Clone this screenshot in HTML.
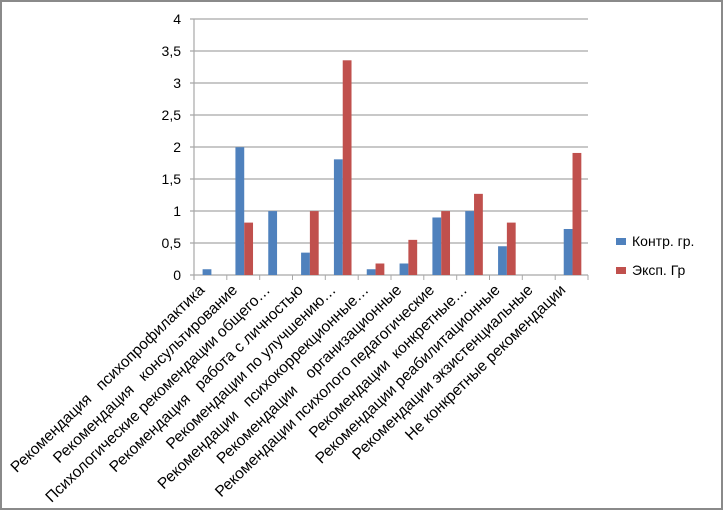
<!DOCTYPE html>
<html><head><meta charset="utf-8"><style>
body{margin:0;background:#fff}
svg{display:block}
text{font-family:"Liberation Sans","DejaVu Sans",sans-serif;fill:#000;white-space:pre}
</style></head><body>
<svg width="724" height="512" xmlns="http://www.w3.org/2000/svg">
<rect x="1" y="1" width="721" height="508" fill="#fff" stroke="#8a8a8a" stroke-width="2"/>
<g stroke="#a8a8a8" stroke-width="1.2">
<line x1="190" y1="19" x2="588" y2="19"/>
<line x1="190" y1="51" x2="588" y2="51"/>
<line x1="190" y1="83" x2="588" y2="83"/>
<line x1="190" y1="115" x2="588" y2="115"/>
<line x1="190" y1="147" x2="588" y2="147"/>
<line x1="190" y1="179" x2="588" y2="179"/>
<line x1="190" y1="211" x2="588" y2="211"/>
<line x1="190" y1="243" x2="588" y2="243"/>
<line x1="190" y1="275" x2="588" y2="275"/>
<line x1="194" y1="19" x2="194" y2="280"/>
</g>
<g stroke="#a8a8a8" stroke-width="1">
<line x1="226.8" y1="275" x2="226.8" y2="280"/><line x1="259.7" y1="275" x2="259.7" y2="280"/>
<line x1="292.5" y1="275" x2="292.5" y2="280"/><line x1="325.3" y1="275" x2="325.3" y2="280"/>
<line x1="358.2" y1="275" x2="358.2" y2="280"/><line x1="391" y1="275" x2="391" y2="280"/>
<line x1="423.8" y1="275" x2="423.8" y2="280"/><line x1="456.7" y1="275" x2="456.7" y2="280"/>
<line x1="489.5" y1="275" x2="489.5" y2="280"/><line x1="522.3" y1="275" x2="522.3" y2="280"/>
<line x1="555.2" y1="275" x2="555.2" y2="280"/><line x1="588" y1="275" x2="588" y2="280"/>
</g>
<g font-size="14" text-anchor="end">
<text x="181" y="24">4</text><text x="181" y="56">3,5</text><text x="181" y="88">3</text>
<text x="181" y="120">2,5</text><text x="181" y="152">2</text><text x="181" y="184">1,5</text>
<text x="181" y="216">1</text><text x="181" y="248">0,5</text><text x="181" y="280">0</text>
</g>
<g id="bars"></g>
<g font-size="15.5" text-anchor="end" id="labels"></g>
<rect x="616" y="238" width="10" height="7" fill="#4f81bd"/>
<text x="632" y="246" font-size="14">Контр. гр.</text>
<rect x="616" y="267" width="10" height="7" fill="#c0504d"/>
<text x="632" y="275" font-size="14">Эксп. Гр</text>
<script>
var b=[0.09,2,1,0.35,1.81,0.09,0.18,0.9,1,0.45,0,0.72],r=[0,0.82,0,1,3.36,0.18,0.55,1,1.27,0.82,0,1.91];
var L=["Рекомендация   психопрофилактика","Рекомендация   консультирование","Психологические рекомендации общего…","Рекомендация   работа с личностью","Рекомендации по улучшению…","Рекомендации   психокоррекционные…","Рекомендации    организационные","Рекомендации психолого педагогические","Рекомендации  конкретные…","Рекомендации реабилитационные","Рекомендации экзистенциальные","Не конкретные рекомендации"];
var ns="http://www.w3.org/2000/svg",g=document.getElementById("bars"),lg=document.getElementById("labels"),w=32.83,u=63.9,y0=275;
for(var i=0;i<12;i++){var x=194+i*w;
[[b[i],"#4f81bd",x+8.6],[r[i],"#c0504d",x+17.4]].forEach(function(a){if(a[0]>0){var e=document.createElementNS(ns,"rect");e.setAttribute("x",a[2]);e.setAttribute("width",8.8);e.setAttribute("y",y0-a[0]*u);e.setAttribute("height",a[0]*u);e.setAttribute("fill",a[1]);g.appendChild(e);}});
var t=document.createElementNS(ns,"text");var cx=x+w/2-5,cy=291;t.setAttribute("transform","translate("+cx+","+cy+") rotate(-44)");t.textContent=L[i];lg.appendChild(t);}
</script>
</svg>
</body></html>
